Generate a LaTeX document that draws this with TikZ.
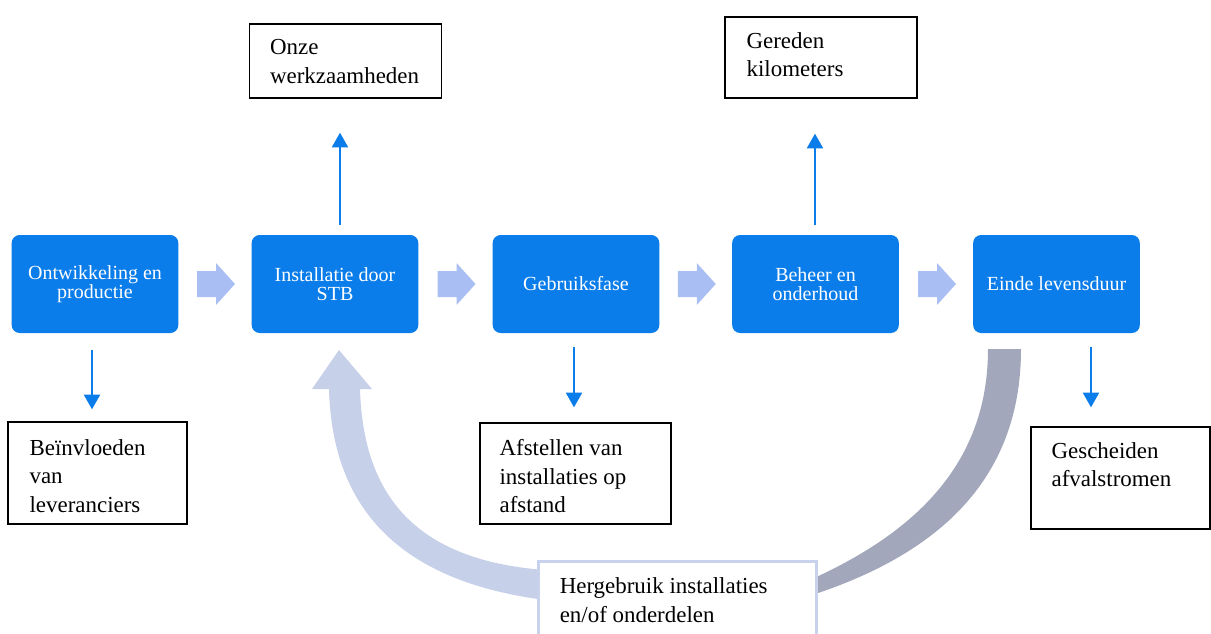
\documentclass[tikz,border=0pt]{standalone}
\usepackage{fontspec}
\setmainfont{Liberation Serif}
\usetikzlibrary{arrows.meta,calc}
\definecolor{boxblue}{HTML}{0A7DEA}
\definecolor{chevcol}{HTML}{A9BEF3}
\definecolor{reusecol}{HTML}{C6D0E9}
\definecolor{backcol}{HTML}{A2A7BB}
\definecolor{hergcol}{HTML}{C8D2EC}
\begin{document}
\begin{tikzpicture}[x=0.75pt,y=-0.75pt,
  stage/.style={fill=boxblue, rounded corners=6pt, minimum width=125pt, minimum height=73.5pt,
    inner sep=0pt, text=white, align=center, font=\fontsize{15}{14}\selectfont},
  obox/.style={draw=black, line width=1pt, fill=white, inner sep=0pt},
  otext/.style={anchor=north west, inner sep=0pt, align=left, font=\fontsize{17.2}{21.3}\selectfont},
  flow/.style={draw=boxblue, line width=1.5pt, -{Triangle[width=12pt,length=11pt]}},
  chev/.pic={\fill[chevcol] (-18,-13) -- (1,-13) -- (1,-21) -- (20,0) -- (1,21) -- (1,13) -- (-18,13) -- cycle;}
]
\useasboundingbox (0,0) rectangle (1211,633);
\clip (0,0) rectangle (1211,633);

% stages
\node[stage] (b1) at (95,284) {Ontwikkeling en\\productie};
\node[stage] (b2) at (335,284) {Installatie door\\STB};
\node[stage] (b3) at (576,284) {Gebruiksfase};
\node[stage] (b4) at (815.5,284) {Beheer en\\onderhoud};
\node[stage] (b5) at (1056.5,284) {Einde levensduur};

% chevrons between stages
\pic at ($(b1.east)!0.5!(b2.west)$) {chev};
\pic at ($(b2.east)!0.5!(b3.west)$) {chev};
\pic at ($(b3.east)!0.5!(b4.west)$) {chev};
\pic at ($(b4.east)!0.5!(b5.west)$) {chev};

% outline boxes
\node[obox, minimum width=144pt, minimum height=55.5pt] (onze) at (345.5,61) {};
\node[otext] (onzet) at ($(onze.north west)+(21,16)$) {Onze\\werkzaamheden};
\node[obox, minimum width=144pt, minimum height=60.75pt] (ger) at (821,57.5) {};
\node[otext] (gert) at ($(ger.north west)+(22,16)$) {Gereden\\kilometers};
\node[obox, minimum width=134.25pt, minimum height=76.5pt] (bein) at (97.5,473) {};
\node[otext] (beint) at ($(bein.north west)+(22,18)$) {Beïnvloeden\\van\\leveranciers};
\node[obox, minimum width=143.25pt, minimum height=75.75pt] (afst) at (575.5,473.5) {};
\node[otext] (afstt) at ($(afst.north west)+(20,17)$) {Afstellen van\\installaties op\\afstand};
\node[obox, minimum width=134.25pt, minimum height=76.5pt] (gesch) at (1120.5,478) {};
\node[otext] (gescht) at ($(gesch.north west)+(21,16)$) {Gescheiden\\afvalstromen};

% flow arrows
\draw[flow] ($(b2.north)+(5,-10)$) -- ($(onze.south)+(-5.5,34)$);
\draw[flow] ($(b4.north)+(-0.5,-10)$) -- ($(ger.south)+(-6,35)$);
\draw[flow] ($(b1.south)+(-3,17)$) -- ($(bein.north)+(-5.5,-12)$);
\draw[flow] ($(b3.south)+(-2,14)$) -- ($(afst.north)+(-1.5,-15)$);
\draw[flow] ($(b5.south)+(34.5,14)$) -- ($(gesch.north)+(-29.5,-19)$);

% reuse loop
\fill[backcol] (988,349) -- (1021,349) .. controls (1021,470) and (950,550) .. (812,595)
  -- (812,579) .. controls (920,530) and (988,460) .. (988,349) -- cycle;
\fill[reusecol] (545,570) .. controls (410,560) and (363,490) .. (360,389) -- (372,389) -- (339,350)
  -- (312,389) -- (329,389) .. controls (332,500) and (390,580) .. (545,600) -- cycle;

\node[draw=hergcol, line width=2.25pt, fill=white, minimum width=208.5pt, minimum height=66.75pt, inner sep=0pt] (herg) at (677,605.5) {};
\node[otext] (hergt) at ($(herg.north west)+(23,18)$) {Hergebruik installaties\\en/of onderdelen};
\end{tikzpicture}
\end{document}
